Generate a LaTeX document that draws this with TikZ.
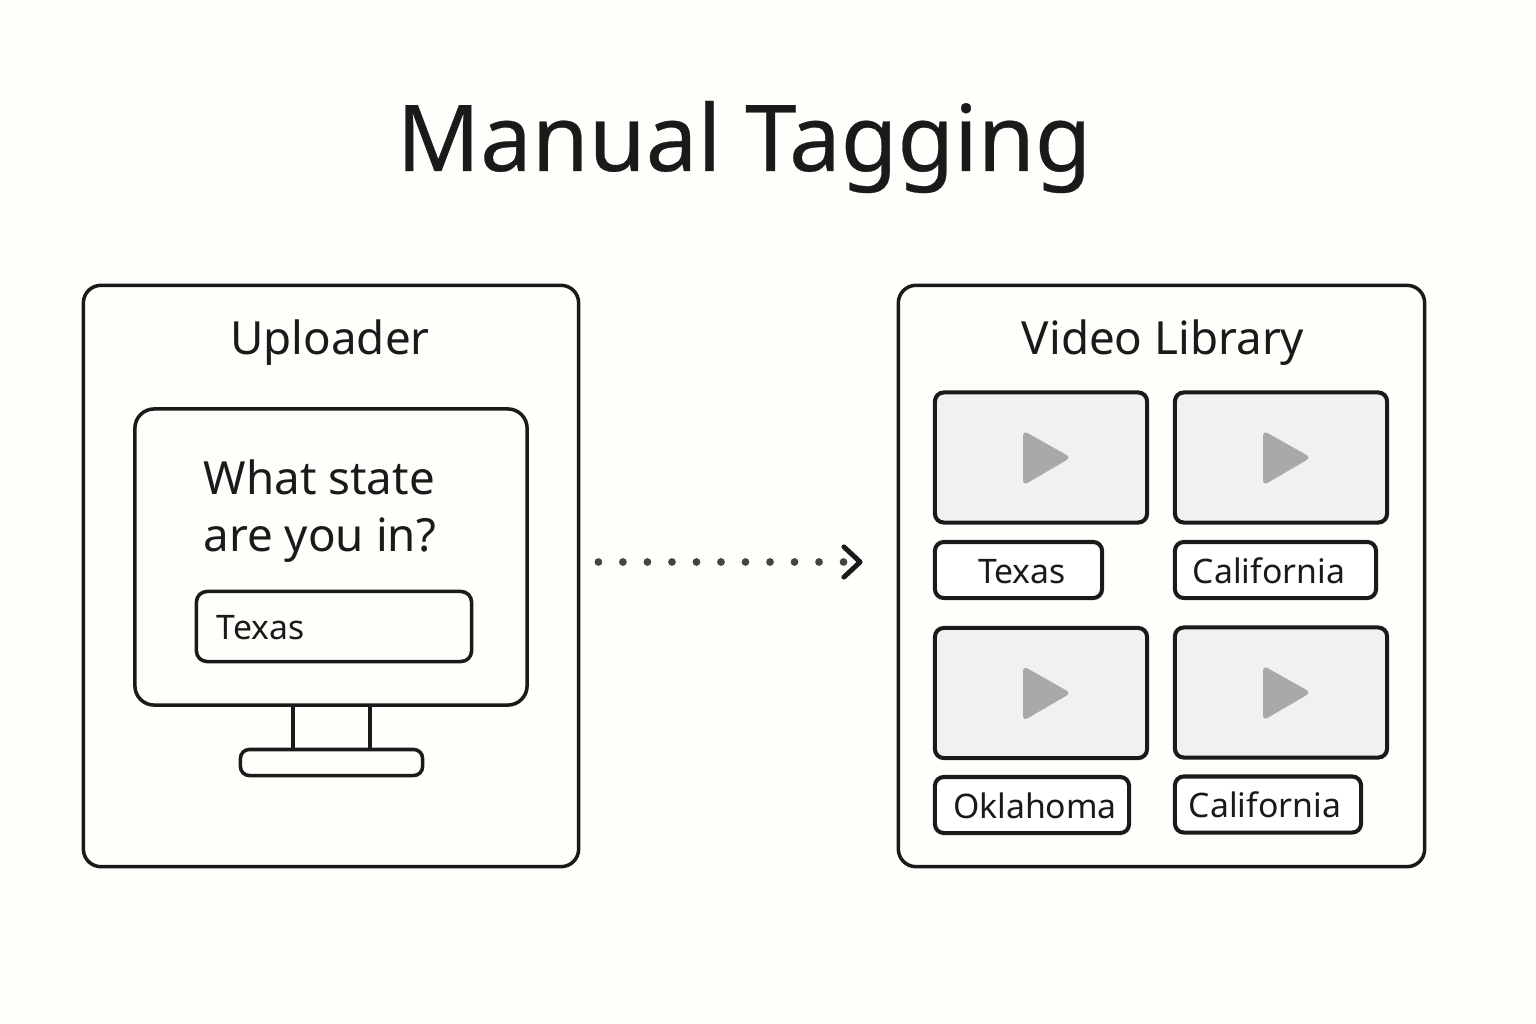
\documentclass[tikz,border=0pt]{standalone}
\usepackage{fontspec}
\setmainfont{Noto Sans}
\usepackage{xcolor}
\usetikzlibrary{arrows.meta, positioning}
\definecolor{paper}{HTML}{FEFEFB}
\definecolor{ink}{HTML}{1A1A1A}
\definecolor{thumb}{HTML}{F0F1F2}
\definecolor{playgray}{HTML}{A9A9A9}
\definecolor{dotgray}{HTML}{444444}
\tikzset{
  box/.style={draw=ink, line width=1pt, rounded corners=#1, inner sep=0pt},
  box/.default=2.5pt,
  thumbbox/.style={box=2.5pt, line width=1.15pt, fill=thumb, minimum width=2.12cm, minimum height=1.30cm},
  tagbox/.style={box=2.5pt, line width=1.15pt, fill=white, minimum height=0.56cm},
  tagtext/.style={font=\fontsize{9.6pt}{12pt}\selectfont, text=ink, inner sep=0pt},
  headtext/.style={font=\fontsize{13pt}{16pt}\selectfont, text=ink, inner sep=0pt}
}
\begin{document}
\begin{tikzpicture}[x=0.01cm, y=-0.01cm]
\fill [paper] (0, 0) rectangle (1536, 1024);
\useasboundingbox (0, 0) rectangle (1536, 1024);
\node [font=\fontsize{26.2pt}{32pt}\selectfont\addfontfeature{FakeBold=0.3}, text=ink, inner sep=0pt] (title) at (744, 147) {Manual Tagging};
% left panel
\node [box=5pt, minimum width=4.95cm, minimum height=5.81cm] (uploader) at (331, 576) {};
\node [headtext] (uploadertitle) at (330, 343) {Uploader};
\node [box=5.5pt, minimum width=3.92cm, minimum height=2.96cm] (screen) at (331, 557) {};
\node [headtext, anchor=west, align=left] (question) at (203, 511) {What state\\[0.4pt]are you in?};
\node [box=3pt, minimum width=2.75cm, minimum height=0.70cm] (field) at (334, 626.5) {};
\node [tagtext, anchor=base west] (fieldtext) at (216, 639) {Texas};
\node [box=2.5pt, minimum width=1.82cm, minimum height=0.26cm] (base) at (331.5, 762.5) {};
\draw [draw=ink, line width=1pt] (293, 705) -- (293, 749);
\draw [draw=ink, line width=1pt] (370, 705) -- (370, 749);
% right panel
\node [box=5pt, minimum width=5.26cm, minimum height=5.81cm] (library) at (1161.5, 576) {};
\node [headtext] (librarytitle) at (1163, 343) {Video Library};
\foreach \x/\y/\n in {1041/457.5/a, 1281/457.5/b, 1041/693/c, 1281/692.5/d} {
  \node [thumbbox] (thumb\n) at (\x, \y) {};
  \fill [playgray, rounded corners=1.5pt] ([shift={(-18, -27)}]thumb\n.center) -- ([shift={(30, 0)}]thumb\n.center) -- ([shift={(-18, 28)}]thumb\n.center) -- cycle;
}
\foreach \x/\y/\w/\tx/\lab/\n in {1018.5/570/1.67/1022/Texas/a, 1275.5/570/2.01/1269/California/b, 1032/805/1.94/1035/Oklahoma/c, 1268/804.5/1.86/1265/California/d} {
  \node [tagbox, minimum width=\w cm] (tag\n) at (\x, \y) {};
  \node [tagtext, anchor=base] (tagtext\n) at (\tx, \y+13) {\lab};
}
% connector
\draw [dotgray, line width=2.2pt, line cap=round, dash pattern=on 0pt off 0.245cm, shorten <=0.18cm, shorten >=0.34cm, -{Straight Barb[round, color=ink, length=4.6pt, width=8.6pt, line width=1.4pt]}] ([yshift=0.14cm]uploader.east) -- ([yshift=0.14cm]library.west);
\end{tikzpicture}
\end{document}
